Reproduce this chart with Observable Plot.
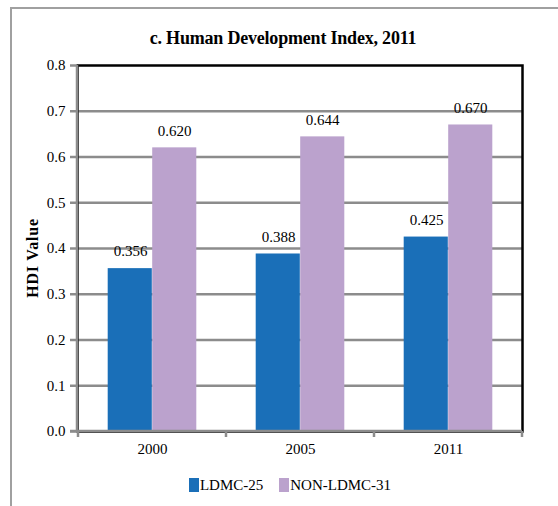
<!DOCTYPE html>
<html>
<head>
<meta charset="utf-8">
<script src="https://cdn.jsdelivr.net/npm/d3@7"></script>
<script src="https://cdn.jsdelivr.net/npm/@observablehq/plot@0.6"></script>
<style>
  html, body { margin: 0; padding: 0; background: #fff; }
  #wrap { position: relative; width: 558px; height: 506px; overflow: hidden; font-family: "Liberation Serif", "Times New Roman", serif; }
  #border { position: absolute; left: 10px; top: 7px; width: 600px; height: 600px; border-left: 2px solid #a0a0a0; border-top: 2px solid #a0a0a0; }
  #title { position: absolute; left: 0; top: 28px; width: 566px; text-align: center; font-weight: bold; font-size: 18px; letter-spacing: -0.2px; }
  #chart { position: absolute; left: 0; top: 50px; }
  #chart svg text { font-family: "Liberation Serif", "Times New Roman", serif !important; font-size: 15px !important; }
  #ylabel { position: absolute; left: 33px; top: 258px; transform: translate(-50%, -50%) rotate(-90deg); font-weight: bold; font-size: 16px; white-space: nowrap; letter-spacing: 0.8px; }
  #legend { position: absolute; left: 0; top: 477px; width: 580px; text-align: center; font-size: 15px; }
  .sw { display: inline-block; width: 10px; height: 14px; vertical-align: -2px; margin-right: 1px; }
  .item { margin: 0 8px; }
</style>
</head>
<body>
<div id="wrap">
  <div id="border"></div>
  <div id="title"></div>
  <div id="chart"></div>
  <div id="ylabel"></div>
  <div id="legend"></div>
</div>
<script>
const titleText = "c. Human Development Index, 2011";
const yLabel = "HDI Value";
const years = ["2000", "2005", "2011"];
const seriesNames = ["LDMC-25", "NON-LDMC-31"];
const ldmc = [0.356, 0.388, 0.425];
const nonLdmc = [0.620, 0.644, 0.670];
const yTicks = [0, 0.1, 0.2, 0.3, 0.4, 0.5, 0.6, 0.7, 0.8];
const colors = ["#1a6fb8", "#bba2cd"];

const rowsA = years.map((y, i) => ({year: y, value: ldmc[i]}));
const rowsB = years.map((y, i) => ({year: y, value: nonLdmc[i]}));

document.getElementById("title").textContent = titleText;
document.getElementById("ylabel").textContent = yLabel;
const legend = document.getElementById("legend");
seriesNames.forEach((s, i) => {
  const span = document.createElement("span");
  span.className = "item";
  span.innerHTML = `<span class="sw" style="background:${colors[i]}"></span>${s}`;
  legend.appendChild(span);
});

const gray = "#8c8c8c";
const inA = {insetLeft: 29.7, insetRight: 74.2};
const inB = {insetLeft: 74.2, insetRight: 29.7};

const axisLines = (index, scales, values, dims) => {
  const {width, height, marginLeft, marginRight, marginTop, marginBottom} = dims;
  const x0 = marginLeft, x1 = width - marginRight, yb = height - marginBottom;
  const g = d3.create("svg:g").attr("stroke", gray).attr("stroke-width", 2.5).attr("fill", "none");
  g.append("line").attr("x1", x0).attr("x2", x0).attr("y1", marginTop).attr("y2", yb);
  g.append("line").attr("x1", x0 - 7).attr("x2", x1).attr("y1", yb).attr("y2", yb);
  const xs = years.map(y => scales.x(y)).concat([x1]);
  xs.forEach(x => g.append("line").attr("x1", x).attr("x2", x).attr("y1", yb).attr("y2", yb + 6));
  return g.node();
};

const plot = Plot.plot({
  width: 558,
  height: 420,
  marginLeft: 77,
  marginRight: 36,
  marginTop: 15,
  marginBottom: 39,
  style: {background: "transparent", overflow: "visible"},
  x: {domain: years, padding: 0, label: null},
  y: {domain: [0, 0.8], label: null},
  marks: [
    Plot.ruleY(yTicks.filter(v => v > 0 && v < 0.8), {stroke: gray, strokeWidth: 2.5}),
    Plot.frame({stroke: "black", strokeWidth: 2.5}),
    Plot.barY(rowsA, {x: "year", y: "value", fill: colors[0], ...inA}),
    Plot.barY(rowsB, {x: "year", y: "value", fill: colors[1], ...inB}),
    Plot.text(rowsA, {x: "year", y: "value", text: d => d.value.toFixed(3), dx: -22, dy: -17, fill: "black"}),
    Plot.text(rowsB, {x: "year", y: "value", text: d => d.value.toFixed(3), dx: 22, dy: -17, fill: "black"}),
    axisLines,
    Plot.axisY({ticks: yTicks, tickSize: 7, tickPadding: 5, tickFormat: d3.format(".1f"), stroke: gray, strokeWidth: 2.5, fill: "black", label: null}),
    Plot.axisX({tickSize: 0, tickPadding: 12, fill: "black", label: null})
  ]
});
document.getElementById("chart").appendChild(plot);
</script>
</body>
</html>
